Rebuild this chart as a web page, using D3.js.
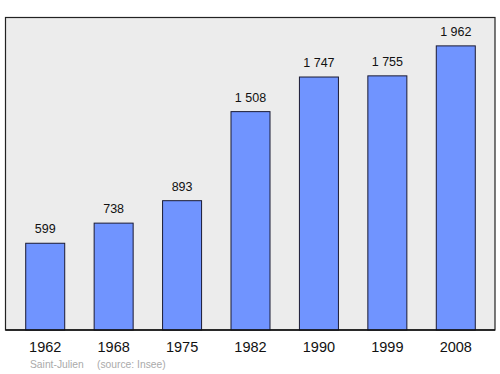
<html>

<head>
  <script src="https://d3js.org/d3.v7.min.js"></script>
  <style>
    body {
      margin: 0;
      background: #fff;
    }

    text {
      font-family: "Liberation Sans", Arial, sans-serif;
    }
  </style>
</head>

<body>
  <svg width="500" height="374" id="chart"></svg>
  <script>
    const years = ["1962", "1968", "1975", "1982", "1990", "1999", "2008"];
    const population = [599, 738, 893, 1508, 1747, 1755, 1962];
    const valueLabels = ["599", "738", "893", "1 508", "1 747", "1 755", "1 962"];

    const data = years.map((y, i) => ({ year: y, value: population[i], label: valueLabels[i] }));

    const svg = d3.select("svg#chart");
    const frame = { left: 5.5, top: 17.5, right: 495, bottom: 330 };

    const xScale = d3.scaleBand().domain(years).range([11, 490])
      .paddingInner(0.43).paddingOuter(0.215);
    const yScale = d3.scaleLinear().domain([0, 2158]).range([frame.bottom, frame.top]);

    // background frame
    svg.append("rect")
      .attr("x", frame.left)
      .attr("y", frame.top)
      .attr("width", frame.right - frame.left)
      .attr("height", frame.bottom - frame.top)
      .attr("fill", "#ececec")
      .attr("stroke", "#222")
      .attr("stroke-width", 1.2);

    // bars
    svg.selectAll("rect.bar").data(data)
      .join("rect").attr("class", "bar")
      .attr("x", d => xScale(d.year))
      .attr("y", d => yScale(d.value))
      .attr("width", xScale.bandwidth())
      .attr("height", d => yScale(0) - yScale(d.value))
      .attr("fill", "#7094ff")
      .attr("stroke", "#1a1a33")
      .attr("stroke-width", 1);

    // value labels
    svg.selectAll("text.value").data(data)
      .join("text").attr("class", "value")
      .attr("x", d => xScale(d.year) + xScale.bandwidth() / 2)
      .attr("y", d => yScale(d.value) - 10)
      .attr("text-anchor", "middle")
      .attr("font-size", 12.5)
      .attr("fill", "#111")
      .text(d => d.label);

    // bottom axis line
    svg.append("line")
      .attr("x1", frame.left).attr("x2", frame.right)
      .attr("y1", frame.bottom).attr("y2", frame.bottom)
      .attr("stroke", "#111").attr("stroke-width", 1.6);

    // year labels
    svg.selectAll("text.year").data(data)
      .join("text").attr("class", "year")
      .attr("x", d => xScale(d.year) + xScale.bandwidth() / 2)
      .attr("y", 352)
      .attr("text-anchor", "middle")
      .attr("font-size", 14.5)
      .attr("fill", "#111")
      .text(d => d.year);

    // source note
    svg.append("text")
      .attr("x", 30).attr("y", 367.5)
      .attr("font-size", 10.3)
      .attr("fill", "#aaa")
      .text("Saint-Julien");
    svg.append("text")
      .attr("x", 97).attr("y", 367.5)
      .attr("font-size", 10.3)
      .attr("fill", "#aaa")
      .text("(source: Insee)");
  </script>
</body>

</html>
